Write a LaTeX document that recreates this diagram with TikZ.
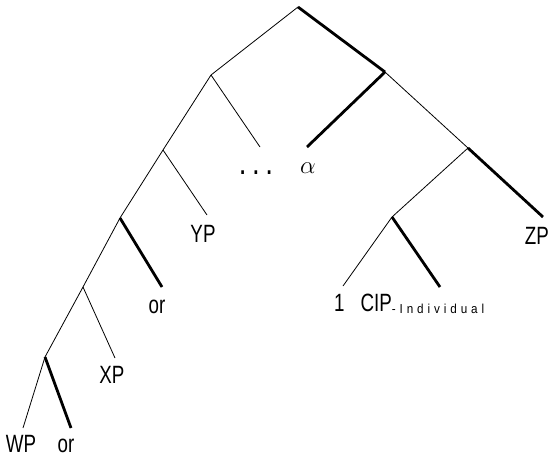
\documentclass[tikz,border=0pt]{standalone}
\usepackage{fontspec}
\newfontfamily\lab{Liberation Sans}[FakeStretch=0.75]
\newfontfamily\labsub{Liberation Sans}[FakeStretch=0.9,LetterSpace=30]
\begin{document}
\begin{tikzpicture}[x=1pt,y=-1pt,
  thin edge/.style={line width=0.8pt},
  thick edge/.style={line width=2.8pt},
  lbl/.style={anchor=base,inner sep=0pt,font=\lab\fontsize{25}{27}\selectfont}]
\useasboundingbox (0,0) rectangle (550,459);
% internal nodes
\coordinate (r) at (298,7);
\coordinate (a) at (211,75);
\coordinate (b) at (385,72);
\coordinate (c) at (163,150);
\coordinate (d) at (468,148);
\coordinate (e) at (120,218);
\coordinate (f) at (392,217);
\coordinate (g) at (83,287);
\coordinate (h) at (45,357);
% leaf ends
\coordinate (tdots) at (260,147);
\coordinate (talpha) at (307,147);
\coordinate (typ) at (207,215);
\coordinate (tzp) at (543,217);
\coordinate (tor1) at (162,287);
\coordinate (tone) at (343,286);
\coordinate (tcip) at (440,287);
\coordinate (txp) at (115,358);
\coordinate (twp) at (23,428);
\coordinate (tor2) at (71,428);
% edges
\draw[thin edge] (r) -- (a);
\draw[thick edge] (r) -- (b);
\draw[thin edge] (a) -- (c);
\draw[thin edge] (a) -- (tdots);
\draw[thick edge] (b) -- (talpha);
\draw[thin edge] (b) -- (d);
\draw[thin edge] (c) -- (e);
\draw[thin edge] (c) -- (typ);
\draw[thin edge] (d) -- (f);
\draw[thick edge] (d) -- (tzp);
\draw[thin edge] (e) -- (g);
\draw[thick edge] (e) -- (tor1);
\draw[thin edge] (f) -- (tone);
\draw[thick edge] (f) -- (tcip);
\draw[thin edge] (g) -- (h);
\draw[thin edge] (g) -- (txp);
\draw[thin edge] (h) -- (twp);
\draw[thick edge] (h) -- (tor2);
% labels
\node[lbl] (ldots) at (256,174) {\bfseries .\hspace{8pt}.\hspace{8pt}.};
\node[anchor=base,inner sep=0pt,font=\fontsize{24}{26}\selectfont] (lalpha) at (308,173) {$\alpha$};
\node[lbl] (lyp) at (203,242) {YP};
\node[lbl,anchor=base east] (lzp) at (549,244) {ZP};
\node[lbl] (lor1) at (157,313) {or};
\node[lbl,anchor=base west] (lcip) at (334,311) {1\hspace{16pt}CIP\raisebox{-2pt}{\labsub\fontsize{13}{14}\selectfont -Individual}};
\node[lbl] (lxp) at (112,383) {XP};
\node[lbl] (lwp) at (21,452) {WP};
\node[lbl] (lor2) at (66,452) {or};
\end{tikzpicture}
\end{document}
